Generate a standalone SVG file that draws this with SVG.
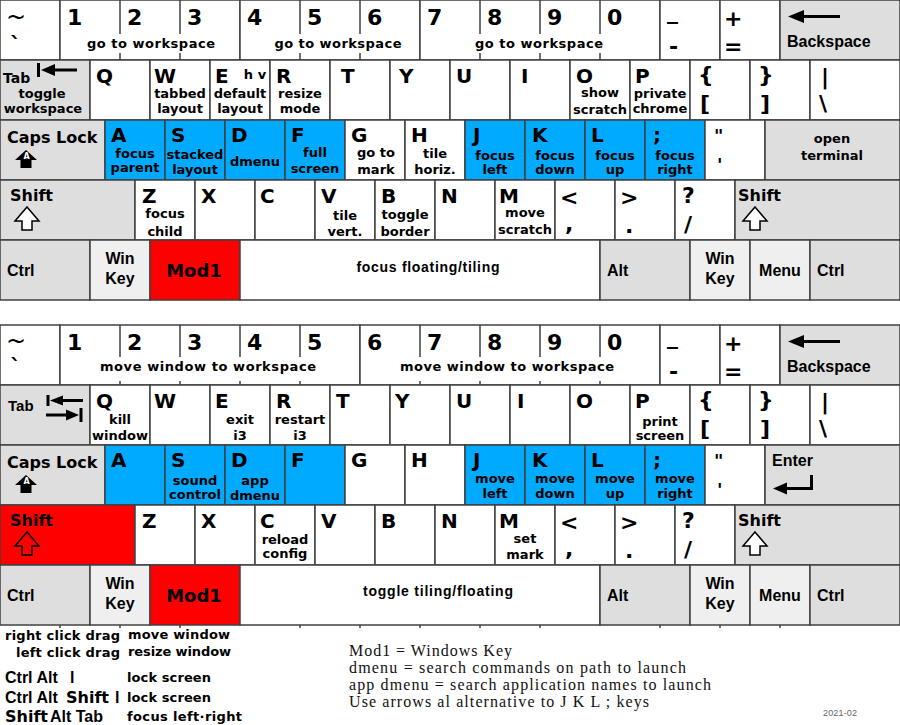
<svg xmlns="http://www.w3.org/2000/svg" width="900" height="725" viewBox="0 0 900 725">
<style>
.k{stroke:#404040;stroke-width:1.5}
.w{fill:#fff}.g{fill:#dedede}.lg{fill:#efefef}.b{fill:#00aaff}.r{fill:#ff0000}
.sep{stroke:#404040;stroke-width:1.5;fill:none}
text{font-family:"DejaVu Sans",sans-serif;font-weight:bold;fill:#000}
.L{font-size:20px}
.D{font-size:22px}
.P{font-size:22px}
.s{font-size:13px;text-anchor:middle}
.sl{font-size:13px}
.a{font-family:"Liberation Sans",Arial,sans-serif;font-size:16px}
.ac{font-family:"Liberation Sans",Arial,sans-serif;font-size:16px;text-anchor:middle}
.m16{font-size:16px}
.til{font-weight:normal;font-size:24px}
.ser{font-family:"Liberation Serif","Times New Roman",serif;font-weight:normal;font-size:16px;fill:#111}
.arr{fill:#000}
</style>
<defs>
<g id="capsIcon"><polygon class="arr" points="26,150 37,160 31.5,160 31.5,168 20.5,168 20.5,160 15,160"/><text x="26.5" y="158.5" style="font-size:8px;fill:#fff;text-anchor:middle">A</text></g>
<polygon id="shiftIcon" points="0,0 12,14 5,14 5,23 -5,23 -5,14 -12,14"/>
<polygon id="bkspArrow" class="arr" points="788,16.5 804,10 804,15 840,15 840,18 804,18 804,23"/>
</defs>

<g id="keyboard-1">
<!-- row 1 -->
<g id="k1-tilde"><rect class="k w" x="0" y="0" width="60" height="60"/><text class="til" x="6" y="25">~</text><text class="P" x="10" y="52">`</text></g>
<g id="k1-123"><rect class="k w" x="60" y="0" width="180" height="60"/><path class="sep" d="M120 0V34M120 53V60M180 0V34M180 53V60"/><text class="D" x="67" y="25">1</text><text class="D" x="127" y="25">2</text><text class="D" x="187" y="25">3</text><text class="s" x="151" y="48" textLength="128">go to workspace</text></g>
<g id="k1-456"><rect class="k w" x="240" y="0" width="180" height="60"/><path class="sep" d="M300 0V34M300 53V60M360 0V34M360 53V60"/><text class="D" x="247" y="25">4</text><text class="D" x="307" y="25">5</text><text class="D" x="367" y="25">6</text><text class="s" x="338" y="48" textLength="127">go to workspace</text></g>
<g id="k1-7890"><rect class="k w" x="420" y="0" width="240" height="60"/><path class="sep" d="M480 0V34M480 53V60M540 0V34M540 53V60M600 0V34M600 53V60"/><text class="D" x="427" y="25">7</text><text class="D" x="487" y="25">8</text><text class="D" x="547" y="25">9</text><text class="D" x="607" y="25">0</text><text class="s" x="539" y="48" textLength="128">go to workspace</text></g>
<g id="k1-minus"><rect class="k w" x="660" y="0" width="60" height="60"/><text class="P" x="667" y="19">_</text><text class="P" x="669" y="54">-</text></g>
<g id="k1-equal"><rect class="k w" x="720" y="0" width="60" height="60"/><text class="P" x="724" y="26">+</text><text class="P" x="724" y="54">=</text></g>
<g id="k1-backspace"><rect class="k g" x="780" y="0" width="120" height="60"/><use href="#bkspArrow"/><text class="a" x="787" y="47">Backspace</text></g>
<!-- row 2 -->
<g id="k1-tab"><rect class="k g" x="0" y="60" width="90" height="60"/><text style="font-size:14px" x="3" y="83">Tab</text><rect class="arr" x="37" y="63" width="3" height="14"/><polygon class="arr" points="41,70 55,64 55,68.5 77,68.5 77,71.5 55,71.5 55,76"/><text class="s" x="42" y="98">toggle</text><text class="s" x="43" y="113">workspace</text></g>
<g id="k1-q"><rect class="k w" x="90" y="60" width="60" height="60"/><text class="L" x="96" y="83">Q</text></g>
<g id="k1-w"><rect class="k w" x="150" y="60" width="60" height="60"/><text class="L" x="154" y="83">W</text><text class="s" x="180" y="98">tabbed</text><text class="s" x="180" y="113">layout</text></g>
<g id="k1-e"><rect class="k w" x="210" y="60" width="60" height="60"/><text class="L" x="215" y="83">E</text><text class="s" x="255" y="79">h v</text><text class="s" x="240" y="98">default</text><text class="s" x="240" y="113">layout</text></g>
<g id="k1-r"><rect class="k w" x="270" y="60" width="60" height="60"/><text class="L" x="276" y="83">R</text><text class="s" x="300" y="98">resize</text><text class="s" x="300" y="113">mode</text></g>
<g id="k1-t"><rect class="k w" x="330" y="60" width="60" height="60"/><text class="L" x="341" y="83">T</text></g>
<g id="k1-y"><rect class="k w" x="390" y="60" width="60" height="60"/><text class="L" x="399" y="83">Y</text></g>
<g id="k1-u"><rect class="k w" x="450" y="60" width="60" height="60"/><text class="L" x="456" y="83">U</text></g>
<g id="k1-i"><rect class="k w" x="510" y="60" width="60" height="60"/><text class="L" x="521" y="83">I</text></g>
<g id="k1-o"><rect class="k w" x="570" y="60" width="60" height="60"/><text class="L" x="576" y="83">O</text><text class="s" x="600" y="97">show</text><text class="s" x="600" y="114">scratch</text></g>
<g id="k1-p"><rect class="k w" x="630" y="60" width="60" height="60"/><text class="L" x="635" y="83">P</text><text class="s" x="660" y="98">private</text><text class="s" x="660" y="113">chrome</text></g>
<g id="k1-lbrace"><rect class="k w" x="690" y="60" width="60" height="60"/><text class="P" x="698" y="82">{</text><text class="P" x="700" y="111">[</text></g>
<g id="k1-rbrace"><rect class="k w" x="750" y="60" width="60" height="60"/><text class="P" x="758" y="82">}</text><text class="P" x="760" y="111">]</text></g>
<g id="k1-pipe"><rect class="k w" x="810" y="60" width="90" height="60"/><text class="P" x="821" y="84">|</text><text class="P" x="819" y="111">\</text></g>
<!-- row 3 -->
<g id="k1-caps"><rect class="k g" x="0" y="120" width="105" height="60"/><text class="m16" x="7" y="143">Caps Lock</text><use href="#capsIcon"/></g>
<g id="k1-a"><rect class="k b" x="105" y="120" width="60" height="60"/><text class="L" x="111" y="142">A</text><text class="s" x="135" y="158">focus</text><text class="s" x="135" y="172">parent</text></g>
<g id="k1-s"><rect class="k b" x="165" y="120" width="60" height="60"/><text class="L" x="171" y="142">S</text><text class="s" x="195" y="159">stacked</text><text class="s" x="195" y="174">layout</text></g>
<g id="k1-d"><rect class="k b" x="225" y="120" width="60" height="60"/><text class="L" x="231" y="142">D</text><text class="s" x="255" y="166">dmenu</text></g>
<g id="k1-f"><rect class="k b" x="285" y="120" width="60" height="60"/><text class="L" x="291" y="142">F</text><text class="s" x="315" y="157">full</text><text class="s" x="315" y="173">screen</text></g>
<g id="k1-g"><rect class="k w" x="345" y="120" width="60" height="60"/><text class="L" x="351" y="142">G</text><text class="s" x="376" y="157">go to</text><text class="s" x="376" y="174">mark</text></g>
<g id="k1-h"><rect class="k w" x="405" y="120" width="60" height="60"/><text class="L" x="411" y="142">H</text><text class="s" x="435" y="158">tile</text><text class="s" x="435" y="174">horiz.</text></g>
<g id="k1-j"><rect class="k b" x="465" y="120" width="60" height="60"/><text class="L" x="473" y="142">J</text><text class="s" x="495" y="160">focus</text><text class="s" x="495" y="174">left</text></g>
<g id="k1-k"><rect class="k b" x="525" y="120" width="60" height="60"/><text class="L" x="532" y="142">K</text><text class="s" x="555" y="160">focus</text><text class="s" x="555" y="174">down</text></g>
<g id="k1-l"><rect class="k b" x="585" y="120" width="60" height="60"/><text class="L" x="591" y="142">L</text><text class="s" x="615" y="160">focus</text><text class="s" x="615" y="174">up</text></g>
<g id="k1-semi"><rect class="k b" x="645" y="120" width="60" height="60"/><text class="L" x="653" y="142">;</text><text class="s" x="675" y="160">focus</text><text class="s" x="675" y="174">right</text></g>
<g id="k1-quote"><rect class="k w" x="705" y="120" width="60" height="60"/><text style="font-size:18px" x="714" y="142">"</text><text style="font-size:18px" x="717" y="171">'</text></g>
<g id="k1-enter"><rect class="k g" x="765" y="120" width="135" height="60"/><text class="s" x="832" y="143">open</text><text class="s" x="832" y="160">terminal</text></g>
<!-- row 4 -->
<g id="k1-shift-l"><rect class="k g" x="0" y="180" width="135" height="60"/><text class="m16" x="10" y="201">Shift</text><use href="#shiftIcon" x="27" y="207" fill="#fff" stroke="#000" stroke-width="1.5"/></g>
<g id="k1-z"><rect class="k w" x="135" y="180" width="60" height="60"/><text class="L" x="142" y="203">Z</text><text class="s" x="165" y="218">focus</text><text class="s" x="165" y="236">child</text></g>
<g id="k1-x"><rect class="k w" x="195" y="180" width="60" height="60"/><text class="L" x="201" y="203">X</text></g>
<g id="k1-c"><rect class="k w" x="255" y="180" width="60" height="60"/><text class="L" x="260" y="203">C</text></g>
<g id="k1-v"><rect class="k w" x="315" y="180" width="60" height="60"/><text class="L" x="321" y="203">V</text><text class="s" x="345" y="220">tile</text><text class="s" x="345" y="236">vert.</text></g>
<g id="k1-b"><rect class="k w" x="375" y="180" width="60" height="60"/><text class="L" x="381" y="203">B</text><text class="s" x="405" y="219">toggle</text><text class="s" x="405" y="236">border</text></g>
<g id="k1-n"><rect class="k w" x="435" y="180" width="60" height="60"/><text class="L" x="441" y="203">N</text></g>
<g id="k1-m"><rect class="k w" x="495" y="180" width="60" height="60"/><text class="L" x="499" y="203">M</text><text class="s" x="525" y="217">move</text><text class="s" x="525" y="234">scratch</text></g>
<g id="k1-comma"><rect class="k w" x="555" y="180" width="60" height="60"/><text class="P" x="560" y="205">&lt;</text><text class="P" x="565" y="231">,</text></g>
<g id="k1-period"><rect class="k w" x="615" y="180" width="60" height="60"/><text class="P" x="620" y="205">&gt;</text><text class="P" x="625" y="233">.</text></g>
<g id="k1-slash"><rect class="k w" x="675" y="180" width="60" height="60"/><text class="P" x="682" y="203">?</text><text class="P" x="684" y="232">/</text></g>
<g id="k1-shift-r"><rect class="k g" x="735" y="180" width="165" height="60"/><text class="m16" x="738" y="201">Shift</text><use href="#shiftIcon" x="755" y="207" fill="#fff" stroke="#000" stroke-width="1.5"/></g>
<!-- row 5 -->
<g id="k1-ctrl-l"><rect class="k g" x="0" y="240" width="90" height="60"/><text class="a" x="7" y="276">Ctrl</text></g>
<g id="k1-win-l"><rect class="k lg" x="90" y="240" width="60" height="60"/><text class="ac" x="120" y="264">Win</text><text class="ac" x="120" y="284">Key</text></g>
<g id="k1-mod1"><rect class="k r" x="150" y="240" width="90" height="60"/><text style="font-size:18px;text-anchor:middle" x="194" y="277">Mod1</text></g>
<g id="k1-space"><rect class="k w" x="240" y="240" width="360" height="60"/><text class="a" style="font-size:14px;text-anchor:middle" x="428" y="272" textLength="143">focus floating/tiling</text></g>
<g id="k1-alt"><rect class="k g" x="600" y="240" width="90" height="60"/><text class="a" x="607" y="276">Alt</text></g>
<g id="k1-win-r"><rect class="k lg" x="690" y="240" width="60" height="60"/><text class="ac" x="720" y="264">Win</text><text class="ac" x="720" y="284">Key</text></g>
<g id="k1-menu"><rect class="k lg" x="750" y="240" width="60" height="60"/><text class="ac" x="780" y="276">Menu</text></g>
<g id="k1-ctrl-r"><rect class="k g" x="810" y="240" width="90" height="60"/><text class="a" x="817" y="276">Ctrl</text></g>
</g>

<g id="keyboard-2" transform="translate(0,325)">
<!-- row 1 -->
<g id="k2-tilde"><rect class="k w" x="0" y="0" width="60" height="60"/><text class="til" x="6" y="24">~</text><text class="P" x="10" y="49">`</text></g>
<g id="k2-12345"><rect class="k w" x="60" y="0" width="300" height="60"/><path class="sep" d="M120 0V32M120 56V60M180 0V32M180 56V60M240 0V32M240 56V60M300 0V32M300 56V60"/><text class="D" x="67" y="25">1</text><text class="D" x="127" y="25">2</text><text class="D" x="187" y="25">3</text><text class="D" x="247" y="25">4</text><text class="D" x="307" y="25">5</text><text class="s" x="208" y="46" textLength="216">move  window  to  workspace</text></g>
<g id="k2-67890"><rect class="k w" x="360" y="0" width="300" height="60"/><path class="sep" d="M420 0V32M420 56V60M480 0V32M480 56V60M540 0V32M540 56V60M600 0V32M600 56V60"/><text class="D" x="367" y="25">6</text><text class="D" x="427" y="25">7</text><text class="D" x="487" y="25">8</text><text class="D" x="547" y="25">9</text><text class="D" x="607" y="25">0</text><text class="s" x="507" y="46" textLength="214">move  window  to  workspace</text></g>
<g id="k2-minus"><rect class="k w" x="660" y="0" width="60" height="60"/><text class="P" x="667" y="19">_</text><text class="P" x="669" y="54">-</text></g>
<g id="k2-equal"><rect class="k w" x="720" y="0" width="60" height="60"/><text class="P" x="724" y="26">+</text><text class="P" x="724" y="54">=</text></g>
<g id="k2-backspace"><rect class="k g" x="780" y="0" width="120" height="60"/><use href="#bkspArrow"/><text class="a" x="787" y="47">Backspace</text></g>
<!-- row 2 -->
<g id="k2-tab"><rect class="k g" x="0" y="60" width="90" height="60"/><text class="a" style="font-size:15px" x="8" y="86">Tab</text><rect class="arr" x="46.5" y="70" width="3" height="11"/><polygon class="arr" points="50,75.5 63,70.5 63,74 83,74 83,77 63,77 63,80.5"/><rect class="arr" x="79.5" y="83" width="3" height="14"/><polygon class="arr" points="79,90 66,84.5 66,88.5 46,88.5 46,91.5 66,91.5 66,95.5"/></g>
<g id="k2-q"><rect class="k w" x="90" y="60" width="60" height="60"/><text class="L" x="96" y="83">Q</text><text class="s" x="120" y="99">kill</text><text class="s" x="120" y="115">window</text></g>
<g id="k2-w"><rect class="k w" x="150" y="60" width="60" height="60"/><text class="L" x="154" y="83">W</text></g>
<g id="k2-e"><rect class="k w" x="210" y="60" width="60" height="60"/><text class="L" x="215" y="83">E</text><text class="s" x="240" y="99">exit</text><text class="s" x="240" y="115">i3</text></g>
<g id="k2-r"><rect class="k w" x="270" y="60" width="60" height="60"/><text class="L" x="276" y="83">R</text><text class="s" x="300" y="99">restart</text><text class="s" x="300" y="115">i3</text></g>
<g id="k2-t"><rect class="k w" x="330" y="60" width="60" height="60"/><text class="L" x="336" y="83">T</text></g>
<g id="k2-y"><rect class="k w" x="390" y="60" width="60" height="60"/><text class="L" x="395" y="83">Y</text></g>
<g id="k2-u"><rect class="k w" x="450" y="60" width="60" height="60"/><text class="L" x="456" y="83">U</text></g>
<g id="k2-i"><rect class="k w" x="510" y="60" width="60" height="60"/><text class="L" x="517" y="83">I</text></g>
<g id="k2-o"><rect class="k w" x="570" y="60" width="60" height="60"/><text class="L" x="576" y="83">O</text></g>
<g id="k2-p"><rect class="k w" x="630" y="60" width="60" height="60"/><text class="L" x="635" y="83">P</text><text class="s" x="660" y="101">print</text><text class="s" x="660" y="115">screen</text></g>
<g id="k2-lbrace"><rect class="k w" x="690" y="60" width="60" height="60"/><text class="P" x="698" y="82">{</text><text class="P" x="700" y="111">[</text></g>
<g id="k2-rbrace"><rect class="k w" x="750" y="60" width="60" height="60"/><text class="P" x="758" y="82">}</text><text class="P" x="760" y="111">]</text></g>
<g id="k2-pipe"><rect class="k w" x="810" y="60" width="90" height="60"/><text class="P" x="821" y="84">|</text><text class="P" x="819" y="111">\</text></g>
<!-- row 3 -->
<g id="k2-caps"><rect class="k g" x="0" y="120" width="105" height="60"/><text class="m16" x="7" y="143">Caps Lock</text><use href="#capsIcon"/></g>
<g id="k2-a"><rect class="k b" x="105" y="120" width="60" height="60"/><text class="L" x="111" y="142">A</text></g>
<g id="k2-s"><rect class="k b" x="165" y="120" width="60" height="60"/><text class="L" x="171" y="142">S</text><text class="s" x="195" y="160">sound</text><text class="s" x="195" y="174">control</text></g>
<g id="k2-d"><rect class="k b" x="225" y="120" width="60" height="60"/><text class="L" x="231" y="142">D</text><text class="s" x="255" y="160">app</text><text class="s" x="255" y="175">dmenu</text></g>
<g id="k2-f"><rect class="k b" x="285" y="120" width="60" height="60"/><text class="L" x="291" y="142">F</text></g>
<g id="k2-g"><rect class="k w" x="345" y="120" width="60" height="60"/><text class="L" x="351" y="142">G</text></g>
<g id="k2-h"><rect class="k w" x="405" y="120" width="60" height="60"/><text class="L" x="411" y="142">H</text></g>
<g id="k2-j"><rect class="k b" x="465" y="120" width="60" height="60"/><text class="L" x="473" y="142">J</text><text class="s" x="495" y="158">move</text><text class="s" x="495" y="173">left</text></g>
<g id="k2-k"><rect class="k b" x="525" y="120" width="60" height="60"/><text class="L" x="532" y="142">K</text><text class="s" x="555" y="158">move</text><text class="s" x="555" y="173">down</text></g>
<g id="k2-l"><rect class="k b" x="585" y="120" width="60" height="60"/><text class="L" x="591" y="142">L</text><text class="s" x="615" y="158">move</text><text class="s" x="615" y="173">up</text></g>
<g id="k2-semi"><rect class="k b" x="645" y="120" width="60" height="60"/><text class="L" x="653" y="142">;</text><text class="s" x="675" y="158">move</text><text class="s" x="675" y="173">right</text></g>
<g id="k2-quote"><rect class="k w" x="705" y="120" width="60" height="60"/><text style="font-size:18px" x="714" y="142">"</text><text style="font-size:18px" x="717" y="171">'</text></g>
<g id="k2-enter"><rect class="k g" x="765" y="120" width="135" height="60"/><text class="a" x="772" y="141">Enter</text><rect class="arr" x="810" y="150" width="3" height="15"/><rect class="arr" x="786" y="162" width="27" height="3"/><polygon class="arr" points="773,163.5 787,157.5 787,169.5"/></g>
<!-- row 4 -->
<g id="k2-shift-l"><rect class="k r" x="0" y="180" width="135" height="60"/><text class="m16" x="10" y="201">Shift</text><use href="#shiftIcon" x="27" y="207" fill="none" stroke="#000" stroke-width="1.5"/></g>
<g id="k2-z"><rect class="k w" x="135" y="180" width="60" height="60"/><text class="L" x="142" y="203">Z</text></g>
<g id="k2-x"><rect class="k w" x="195" y="180" width="60" height="60"/><text class="L" x="201" y="203">X</text></g>
<g id="k2-c"><rect class="k w" x="255" y="180" width="60" height="60"/><text class="L" x="260" y="203">C</text><text class="s" x="285" y="219">reload</text><text class="s" x="285" y="233">config</text></g>
<g id="k2-v"><rect class="k w" x="315" y="180" width="60" height="60"/><text class="L" x="321" y="203">V</text></g>
<g id="k2-b"><rect class="k w" x="375" y="180" width="60" height="60"/><text class="L" x="381" y="203">B</text></g>
<g id="k2-n"><rect class="k w" x="435" y="180" width="60" height="60"/><text class="L" x="441" y="203">N</text></g>
<g id="k2-m"><rect class="k w" x="495" y="180" width="60" height="60"/><text class="L" x="499" y="203">M</text><text class="s" x="525" y="218">set</text><text class="s" x="525" y="234">mark</text></g>
<g id="k2-comma"><rect class="k w" x="555" y="180" width="60" height="60"/><text class="P" x="560" y="205">&lt;</text><text class="P" x="565" y="231">,</text></g>
<g id="k2-period"><rect class="k w" x="615" y="180" width="60" height="60"/><text class="P" x="620" y="205">&gt;</text><text class="P" x="625" y="233">.</text></g>
<g id="k2-slash"><rect class="k w" x="675" y="180" width="60" height="60"/><text class="P" x="682" y="203">?</text><text class="P" x="684" y="232">/</text></g>
<g id="k2-shift-r"><rect class="k g" x="735" y="180" width="165" height="60"/><text class="m16" x="738" y="201">Shift</text><use href="#shiftIcon" x="755" y="207" fill="#fff" stroke="#000" stroke-width="1.5"/></g>
<!-- row 5 -->
<g id="k2-ctrl-l"><rect class="k g" x="0" y="240" width="90" height="60"/><text class="a" x="7" y="276">Ctrl</text></g>
<g id="k2-win-l"><rect class="k lg" x="90" y="240" width="60" height="60"/><text class="ac" x="120" y="264">Win</text><text class="ac" x="120" y="284">Key</text></g>
<g id="k2-mod1"><rect class="k r" x="150" y="240" width="90" height="60"/><text style="font-size:18px;text-anchor:middle" x="194" y="277">Mod1</text></g>
<g id="k2-space"><rect class="k w" x="240" y="240" width="360" height="60"/><text class="a" style="font-size:14px;text-anchor:middle" x="438" y="271" textLength="150">toggle tiling/floating</text></g>
<g id="k2-alt"><rect class="k g" x="600" y="240" width="90" height="60"/><text class="a" x="607" y="276">Alt</text></g>
<g id="k2-win-r"><rect class="k lg" x="690" y="240" width="60" height="60"/><text class="ac" x="720" y="264">Win</text><text class="ac" x="720" y="284">Key</text></g>
<g id="k2-menu"><rect class="k lg" x="750" y="240" width="60" height="60"/><text class="ac" x="780" y="276">Menu</text></g>
<g id="k2-ctrl-r"><rect class="k g" x="810" y="240" width="90" height="60"/><text class="a" x="817" y="276">Ctrl</text></g>
<path class="sep" d="M60 300v3M120 300v3M180 300v3M300 300v3M360 300v3M420 300v3M480 300v3M540 300v3M660 300v3M720 300v3M780 300v3"/>
</g>

<g id="legend-shortcuts">
<text class="sl" x="5" y="640" textLength="115">right click drag</text>
<text class="sl" x="128" y="639" textLength="102">move  window</text>
<text class="sl" x="16" y="657" textLength="104">left click drag</text>
<text class="sl" x="128" y="656" textLength="103">resize window</text>
<text class="a" x="5" y="683">Ctrl Alt</text><text class="a" x="70" y="683">l</text>
<text class="sl" x="127" y="682" textLength="84">lock screen</text>
<text class="a" x="5" y="703">Ctrl Alt</text><text class="m16" x="66" y="703">Shift</text><text class="a" x="115" y="703">l</text>
<text class="sl" x="127" y="702" textLength="84">lock screen</text>
<text class="m16" x="5" y="722">Shift</text><text class="a" x="50" y="722">Alt Tab</text>
<text class="sl" x="127" y="721" textLength="115">focus left·right</text>
</g>
<g id="legend-notes">
<text class="ser" x="349" y="656" textLength="163">Mod1 = Windows Key</text>
<text class="ser" x="349" y="673" textLength="337">dmenu = search commands on path to launch</text>
<text class="ser" x="349" y="690" textLength="362">app dmenu = search application names to launch</text>
<text class="ser" x="349" y="707" textLength="300">Use arrows al alternative to J K L ; keys</text>
<text x="823" y="716" textLength="34" style="font-family:'Liberation Sans',sans-serif;font-weight:normal;font-size:9px;fill:#666">2021-02</text>
</g>
</svg>
